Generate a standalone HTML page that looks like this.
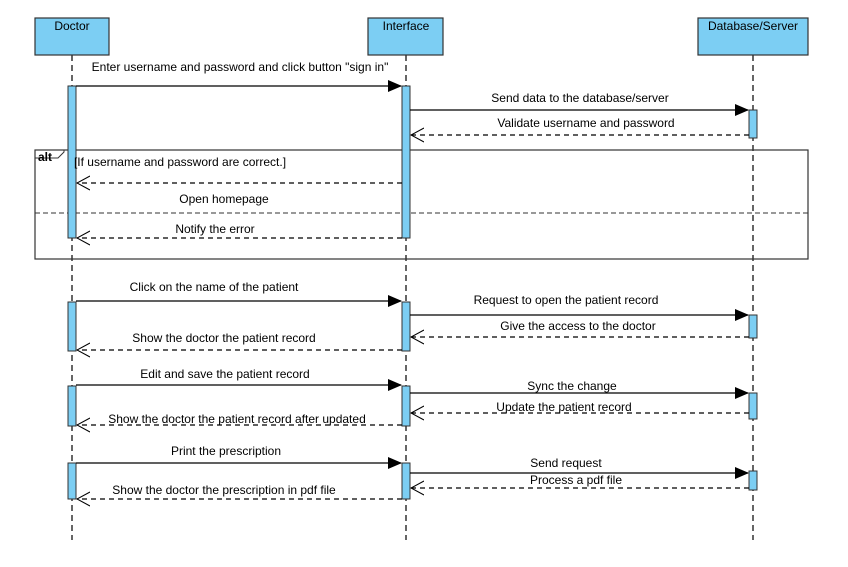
<!DOCTYPE html>
<html><head><meta charset="utf-8"><style>
html,body{margin:0;padding:0;background:#fff;}
svg{display:block;font-family:"Liberation Sans",Arial,sans-serif;font-size:12px;}
</style></head><body>
<svg width="848" height="567" viewBox="0 0 848 567" xmlns="http://www.w3.org/2000/svg">
<defs>
<marker id="fa" markerWidth="14" markerHeight="12" refX="13" refY="6" orient="auto" markerUnits="userSpaceOnUse"><path d="M0,0 L14,6 L0,12 Z" fill="#000"/></marker>
<marker id="oa" markerWidth="14" markerHeight="16" refX="13" refY="8" orient="auto" markerUnits="userSpaceOnUse"><path d="M0,1 L13,8 L0,15" fill="none" stroke="#000" stroke-width="1"/></marker>
</defs>
<g stroke="#000" stroke-width="1.2" stroke-dasharray="6,4">
<line x1="72" y1="55" x2="72" y2="540"/>
<line x1="406" y1="55" x2="406" y2="540"/>
<line x1="753" y1="55" x2="753" y2="540"/>
</g>
<g fill="#7ccef3" stroke="#333" stroke-width="1.2">
<rect x="35" y="18" width="74" height="37"/>
<rect x="368" y="18" width="75" height="37"/>
<rect x="698" y="18" width="110" height="37"/>
</g>
<g text-anchor="middle" fill="#000">
<text x="72" y="30">Doctor</text>
<text x="406" y="30">Interface</text>
<text x="753" y="30">Database/Server</text>
</g>
<rect x="35" y="150" width="773" height="109" fill="none" stroke="#333" stroke-width="1.2"/>
<path d="M35,158 L58,158 L64,152 L64,150" fill="none" stroke="#333"/>
<text x="38" y="161" font-weight="bold">alt</text>
<line x1="35" y1="213" x2="808" y2="213" stroke="#333" stroke-dasharray="5,3"/>
<g fill="#7ccef3" stroke="#333" stroke-width="1">
<rect x="68" y="86" width="8" height="152"/>
<rect x="402" y="86" width="8" height="152"/>
<rect x="749" y="110" width="8" height="28"/>
<rect x="68" y="302" width="8" height="49"/>
<rect x="402" y="302" width="8" height="49"/>
<rect x="749" y="315" width="8" height="23"/>
<rect x="68" y="386" width="8" height="40"/>
<rect x="402" y="386" width="8" height="40"/>
<rect x="749" y="393" width="8" height="26"/>
<rect x="68" y="463" width="8" height="36"/>
<rect x="402" y="463" width="8" height="36"/>
<rect x="749" y="471" width="8" height="19"/>
</g>
<g stroke="#000" stroke-width="1.2" marker-end="url(#fa)">
<line x1="76" y1="86" x2="401" y2="86"/>
<line x1="410" y1="110" x2="748" y2="110"/>
<line x1="76" y1="301" x2="401" y2="301"/>
<line x1="410" y1="315" x2="748" y2="315"/>
<line x1="76" y1="385" x2="401" y2="385"/>
<line x1="410" y1="393" x2="748" y2="393"/>
<line x1="76" y1="463" x2="401" y2="463"/>
<line x1="410" y1="473" x2="748" y2="473"/>
</g>
<g stroke="#000" stroke-width="1.2" stroke-dasharray="5,4" marker-end="url(#oa)">
<line x1="749" y1="135" x2="411" y2="135"/>
<line x1="402" y1="183" x2="77" y2="183"/>
<line x1="402" y1="238" x2="77" y2="238"/>
<line x1="749" y1="337" x2="411" y2="337"/>
<line x1="402" y1="350" x2="77" y2="350"/>
<line x1="749" y1="413" x2="411" y2="413"/>
<line x1="402" y1="425" x2="77" y2="425"/>
<line x1="749" y1="488" x2="411" y2="488"/>
<line x1="402" y1="499" x2="77" y2="499"/>
</g>
<g text-anchor="middle" fill="#000">
<text x="240" y="71">Enter username and password and click button "sign in"</text>
<text x="580" y="102">Send data to the database/server</text>
<text x="586" y="127">Validate username and password</text>
<text x="180" y="166">[If username and password are correct.]</text>
<text x="224" y="203">Open homepage</text>
<text x="215" y="233">Notify the error</text>
<text x="214" y="291">Click on the name of the patient</text>
<text x="566" y="304">Request to open the patient record</text>
<text x="578" y="330">Give the access to the doctor</text>
<text x="224" y="342">Show the doctor the patient record</text>
<text x="225" y="378">Edit and save the patient record</text>
<text x="572" y="390">Sync the change</text>
<text x="564" y="411">Update the patient record</text>
<text x="237" y="423">Show the doctor the patient record after updated</text>
<text x="226" y="455">Print the prescription</text>
<text x="566" y="467">Send request</text>
<text x="576" y="484">Process a pdf file</text>
<text x="224" y="494">Show the doctor the prescription in pdf file</text>
</g>
</svg>
</body></html>
